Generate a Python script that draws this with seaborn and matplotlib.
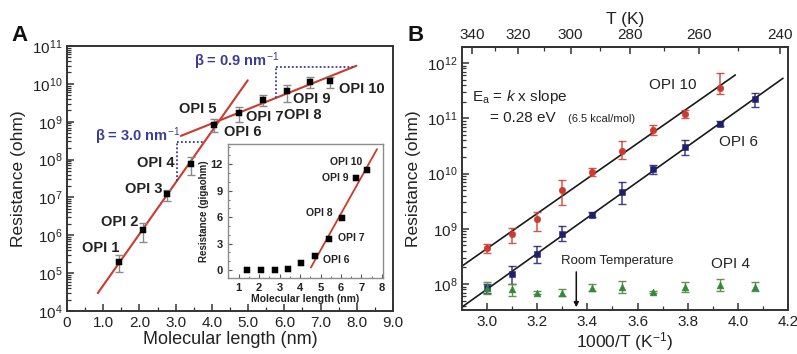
import numpy as np
import pandas as pd
import matplotlib
matplotlib.use("Agg")
import matplotlib.pyplot as plt
import seaborn as sns
from matplotlib.ticker import LogLocator, MultipleLocator, FixedLocator, NullFormatter, FuncFormatter

# ---------------- data: panel A ----------------
opi_labels = ["OPI 1", "OPI 2", "OPI 3", "OPI 4", "OPI 5",
              "OPI 6", "OPI 7", "OPI 8", "OPI 9", "OPI 10"]
length_nm = [1.43, 2.10, 2.76, 3.41, 4.07, 4.74, 5.40, 6.06, 6.72, 7.25]
resistance_ohm = [2.0e5, 1.35e6, 1.2e7, 7.5e7, 8.0e8, 1.7e9, 3.7e9, 6.4e9, 1.1e10, 1.2e10]
res_hi = [3.0e5, 2.1e6, 1.6e7, 1.15e8, 1.2e9, 2.4e9, 5.0e9, 9.3e9, 1.5e10, 1.5e10]
res_lo = [1.1e5, 6.8e5, 8.0e6, 3.8e7, 5.2e8, 9.7e8, 2.6e9, 3.3e9, 7.8e9, 7.8e9]
inset_gohm = [0.02, 0.03, 0.04, 0.10, 0.75, 1.6, 3.5, 5.9, 10.4, 11.3]
beta_labels = ["β = 3.0 nm$^{-1}$", "β = 0.9 nm$^{-1}$"]

# ---------------- data: panel B ----------------
inv_T = [3.00, 3.10, 3.20, 3.30, 3.42, 3.54, 3.66, 3.79, 3.93, 4.07]
opi10_R = [4.4e8, 8.1e8, 1.5e9, 5.0e9, 1.05e10, 2.6e10, 6.1e10, 1.2e11, 3.6e11]
opi10_hi = [5.2e8, 1.05e9, 2.0e9, 7.5e9, 1.25e10, 3.8e10, 7.5e10, 1.4e11, 6.5e11]
opi10_lo = [3.6e8, 5.5e8, 9.0e8, 2.7e9, 9.0e9, 1.8e10, 5.0e10, 1.0e11, 2.7e11]
opi6_R = [8.5e7, 1.5e8, 3.5e8, 8.1e8, 1.8e9, 4.6e9, 1.2e10, 3.0e10, 8.0e10, 2.2e11]
opi6_hi = [1.0e8, 2.1e8, 4.9e8, 1.1e9, 2.0e9, 6.9e9, 1.4e10, 4.0e10, 8.8e10, 2.9e11]
opi6_lo = [6.9e7, 1.0e8, 2.4e8, 6.0e8, 1.6e9, 2.8e9, 1.0e10, 2.2e10, 7.2e10, 1.6e11]
opi4_R = [8.5e7, 8.0e7, 7.0e7, 7.0e7, 8.5e7, 9.0e7, 7.2e7, 9.0e7, 9.5e7, 9.0e7]
opi4_hi = [1.1e8, 1.0e8, 7.4e7, 8.0e7, 1.0e8, 1.15e8, 7.6e7, 1.1e8, 1.25e8, 1.1e8]
opi4_lo = [6.5e7, 6.0e7, 6.6e7, 6.0e7, 7.5e7, 7.0e7, 6.8e7, 7.2e7, 7.5e7, 7.5e7]
room_T_K = 298.0
T_ticks = [340, 320, 300, 280, 260, 240]

# ---------------- style ----------------
sns.set_theme(style="ticks")
plt.rcParams["font.family"] = ["Liberation Sans", "DejaVu Sans"]
plt.rcParams["mathtext.fontset"] = "custom"
plt.rcParams["mathtext.rm"] = "Liberation Sans"
plt.rcParams["mathtext.it"] = "Liberation Sans:italic"
plt.rcParams["mathtext.bf"] = "Liberation Sans:bold"
plt.rcParams["axes.edgecolor"] = "#333333"
plt.rcParams["axes.linewidth"] = 1.4

RED = "#cc3a2e"
NAVY = "#1f1f6b"
GREEN = "#2f8a3a"
GREY = "#8a8a8a"
DOT = "#3c3c96"
TXT = "#222222"

fig = plt.figure(figsize=(7.97, 3.54), dpi=100)
axA = fig.add_axes([0.0841, 0.1215, 0.409, 0.7486])
axB = fig.add_axes([0.5797, 0.1243, 0.409, 0.743])
axI = fig.add_axes([0.286, 0.2147, 0.1945, 0.3785])


def style_ticks(ax, size=11):
    ax.tick_params(which="both", direction="in", top=False, right=False,
                   labelsize=size, colors="#333333", labelcolor=TXT)
    ax.tick_params(which="major", length=5, width=1.1)
    ax.tick_params(which="minor", length=3, width=0.9)


# ================= Panel A =================
axA.set_yscale("log")
axA.set_xlim(0, 9.0)
axA.set_ylim(1e4, 1e11)
L = np.array(length_nm)
R = np.array(resistance_ohm)
axA.errorbar(L, R, yerr=[R - np.array(res_lo), np.array(res_hi) - R], fmt="none",
             ecolor=GREY, elinewidth=1.0, capsize=3, capthick=1.0, zorder=3)

# fits (log10 R vs length)
p1 = np.polyfit(L[:5], np.log10(R[:5]), 1)
p2 = np.polyfit(L[4:], np.log10(R[4:]), 1)
x1 = np.linspace(0.85, 4.99, 50)
x2 = np.linspace(3.14, 7.99, 50)
sns.lineplot(x=x1, y=10 ** np.polyval(p1, x1), ax=axA, color=RED, lw=1.5, zorder=2)
sns.lineplot(x=x2, y=10 ** np.polyval(p2, x2), ax=axA, color=RED, lw=1.5, zorder=2)

# dotted slope triangles
for p, xa, xb in [(p1, 3.03, 3.78), (p2, 5.78, 7.9)]:
    ytop = 10 ** np.polyval(p, xb)
    axA.plot([xa, xa], [10 ** np.polyval(p, xa), ytop], ls=(0, (1, 1.2)), color=DOT, lw=1.3, zorder=2)
    axA.plot([xa, xb], [ytop, ytop], ls=(0, (1, 1.2)), color=DOT, lw=1.3, zorder=2)

sns.scatterplot(x=L, y=R, ax=axA, marker="s", color="black", s=18, edgecolor="black",
                zorder=4, legend=False)

offsA = [(-13, 10), (-17, 6), (-17, 4), (-25, 1), (-12, 12),
         (3, -14), (1.5, -12), (12, -17), (1, -12), (23, -6)]
for lab, xx, yy, off in zip(opi_labels, L, R, offsA):
    axA.annotate(lab, (xx, yy), xytext=off, textcoords="offset points", ha="center",
                 va="center", fontsize=10.5, fontweight="bold", color=TXT)

axA.text(0.218, 0.66, beta_labels[0], transform=axA.transAxes, ha="center", va="center",
         fontsize=10.5, fontweight="bold", color=DOT)
axA.text(0.521, 0.943, beta_labels[1], transform=axA.transAxes, ha="center", va="center",
         fontsize=10.5, fontweight="bold", color=DOT)

axA.xaxis.set_major_locator(MultipleLocator(1.0))
axA.xaxis.set_minor_locator(MultipleLocator(0.5))
axA.xaxis.set_major_formatter(FuncFormatter(lambda v, pos: "0" if abs(v) < 1e-9 else f"{v:.1f}"))
axA.yaxis.set_major_locator(LogLocator(base=10, numticks=20))
axA.yaxis.set_minor_locator(LogLocator(base=10, subs=np.arange(2, 10), numticks=20))
axA.yaxis.set_minor_formatter(NullFormatter())
style_ticks(axA)
axA.set_xlabel("Molecular length (nm)", fontsize=13, color=TXT, labelpad=1)
axA.set_ylabel("Resistance (ohm)", fontsize=12.5, color=TXT, labelpad=4)

# ---------------- inset ----------------
G = np.array(inset_gohm)
axI.set_xlim(0.48, 8.05)
axI.set_ylim(-0.9, 14.3)
pI = np.polyfit(L[5:], G[5:], 1)
xi = np.linspace(4.53, 7.76, 20)
sns.lineplot(x=xi, y=np.polyval(pI, xi), ax=axI, color=RED, lw=1.3, zorder=2)
sns.scatterplot(x=L, y=G, ax=axI, marker="s", color="black", s=20, edgecolor="black",
                zorder=3, legend=False)
offsI = [(-15, 6), (-15, 0), (-16.5, 3.5), (16.5, 0.7), (15, -3)]
for lab, xx, yy, off in zip(opi_labels[9:4:-1], L[9:4:-1], G[9:4:-1], offsI):
    axI.annotate(lab, (xx, yy), xytext=off, textcoords="offset points", ha="center",
                 va="center", fontsize=7.5, fontweight="bold", color=TXT)
axI.xaxis.set_major_locator(MultipleLocator(1))
axI.xaxis.set_minor_locator(MultipleLocator(0.5))
axI.yaxis.set_major_locator(FixedLocator([0, 3, 6, 9, 12]))
axI.yaxis.set_minor_locator(MultipleLocator(1))
axI.tick_params(which="both", direction="in", labelsize=8, colors="#555555", labelcolor=TXT)
axI.tick_params(which="major", length=3, width=0.8)
axI.tick_params(which="minor", length=1.5, width=0.6)
for lbl in axI.get_xticklabels() + axI.get_yticklabels():
    lbl.set_fontweight("bold")
for sp in axI.spines.values():
    sp.set_color("#8c8c8c")
    sp.set_linewidth(1.0)
axI.set_xlabel("Molecular length (nm)", fontsize=7.5, fontweight="bold", color=TXT, labelpad=1)
axI.set_ylabel("Resistance (gigaohm)", fontsize=7, fontweight="bold", color=TXT, labelpad=1)

# ================= Panel B =================
axB.set_yscale("log")
axB.set_xlim(2.9, 4.2)
axB.set_ylim(10 ** 7.53, 10 ** 12.29)
X = np.array(inv_T)

series = [
    (X[:len(opi10_R)], opi10_R, opi10_hi, opi10_lo, RED, "o", 3.99),
    (X, opi6_R, opi6_hi, opi6_lo, NAVY, "s", 4.18),
]
for xs, r, hi, lo, col, mk, xend in series:
    r = np.array(r)
    axB.errorbar(xs, r, yerr=[r - np.array(lo), np.array(hi) - r], fmt="none",
                 ecolor=col, elinewidth=1.1, capsize=3, capthick=1.0, alpha=0.85, zorder=3)
    p = np.polyfit(xs, np.log10(r), 1)
    xf = np.linspace(2.9, xend, 50)
    sns.lineplot(x=xf, y=10 ** np.polyval(p, xf), ax=axB, color="#1a1a1a", lw=1.2, zorder=2)
    sns.scatterplot(x=xs, y=r, ax=axB, marker=mk, color=col, s=22, edgecolor=col,
                    zorder=4, legend=False)

r4 = np.array(opi4_R)
axB.errorbar(X, r4, yerr=[r4 - np.array(opi4_lo), np.array(opi4_hi) - r4], fmt="none",
             ecolor="#6a8f4a", elinewidth=1.0, capsize=3, capthick=1.0, zorder=3)
sns.scatterplot(x=X, y=r4, ax=axB, marker="^", color=GREEN, s=24, edgecolor=GREEN,
                zorder=4, legend=False)

# room temperature arrow
xr = 1000.0 / room_T_K
axB.annotate("", xy=(xr, 10 ** 7.53), xytext=(xr, 10 ** 8.27),
             arrowprops=dict(arrowstyle="-|>", color="#111111", lw=1.1, mutation_scale=7),
             zorder=5)
axB.text(0.475, 0.186, "Room Temperature", transform=axB.transAxes, ha="center",
         va="center", fontsize=9.5, color=TXT)
axB.text(0.825, 0.175, "OPI 4", transform=axB.transAxes, ha="center", va="center",
         fontsize=11, color=TXT)
axB.text(0.647, 0.855, "OPI 10", transform=axB.transAxes, ha="center", va="center",
         fontsize=11, color=TXT)
axB.text(0.847, 0.639, "OPI 6", transform=axB.transAxes, ha="center", va="center",
         fontsize=11, color=TXT)
axB.text(0.031, 0.81, "E$_\\mathrm{a}$ = $k$ x slope", transform=axB.transAxes, ha="left",
         va="center", fontsize=11, color=TXT)
axB.text(0.086, 0.73, "= 0.28 eV", transform=axB.transAxes, ha="left", va="center",
         fontsize=11, color=TXT)
axB.text(0.325, 0.725, "(6.5 kcal/mol)", transform=axB.transAxes, ha="left", va="center",
         fontsize=8, color=TXT)

axB.xaxis.set_major_locator(MultipleLocator(0.2))
axB.xaxis.set_minor_locator(MultipleLocator(0.1))
axB.xaxis.set_major_formatter(FuncFormatter(lambda v, pos: f"{v:.1f}"))
axB.yaxis.set_major_locator(LogLocator(base=10, numticks=20))
axB.yaxis.set_minor_locator(LogLocator(base=10, subs=np.arange(2, 10), numticks=20))
axB.yaxis.set_minor_formatter(NullFormatter())
style_ticks(axB)
axB.set_xlabel("1000/T (K$^{-1}$)", fontsize=12.5, color=TXT, labelpad=1)
axB.set_ylabel("Resistance (ohm)", fontsize=12.5, color=TXT, labelpad=4)


def inv(x):
    x = np.asarray(x, dtype=float)
    with np.errstate(divide="ignore", invalid="ignore"):
        return np.where(x == 0, np.inf, 1000.0 / np.where(x == 0, 1, x))


sec = axB.secondary_xaxis("top", functions=(inv, inv))
sec.xaxis.set_major_locator(FixedLocator(T_ticks))
sec.xaxis.set_minor_locator(FixedLocator([330, 310, 290, 270, 250]))
sec.tick_params(which="both", direction="in", labelsize=11, colors="#333333", labelcolor=TXT)
sec.tick_params(which="major", length=5, width=1.1)
sec.tick_params(which="minor", length=3, width=0.9)
sec.set_xlabel("T (K)", fontsize=12.5, color=TXT, labelpad=3)

fig.text(0.025, 0.901, "A", fontsize=16, fontweight="bold", ha="center", va="center", color="#111111")
fig.text(0.521, 0.901, "B", fontsize=16, fontweight="bold", ha="center", va="center", color="#111111")

fig.savefig("out.png", dpi=100)
